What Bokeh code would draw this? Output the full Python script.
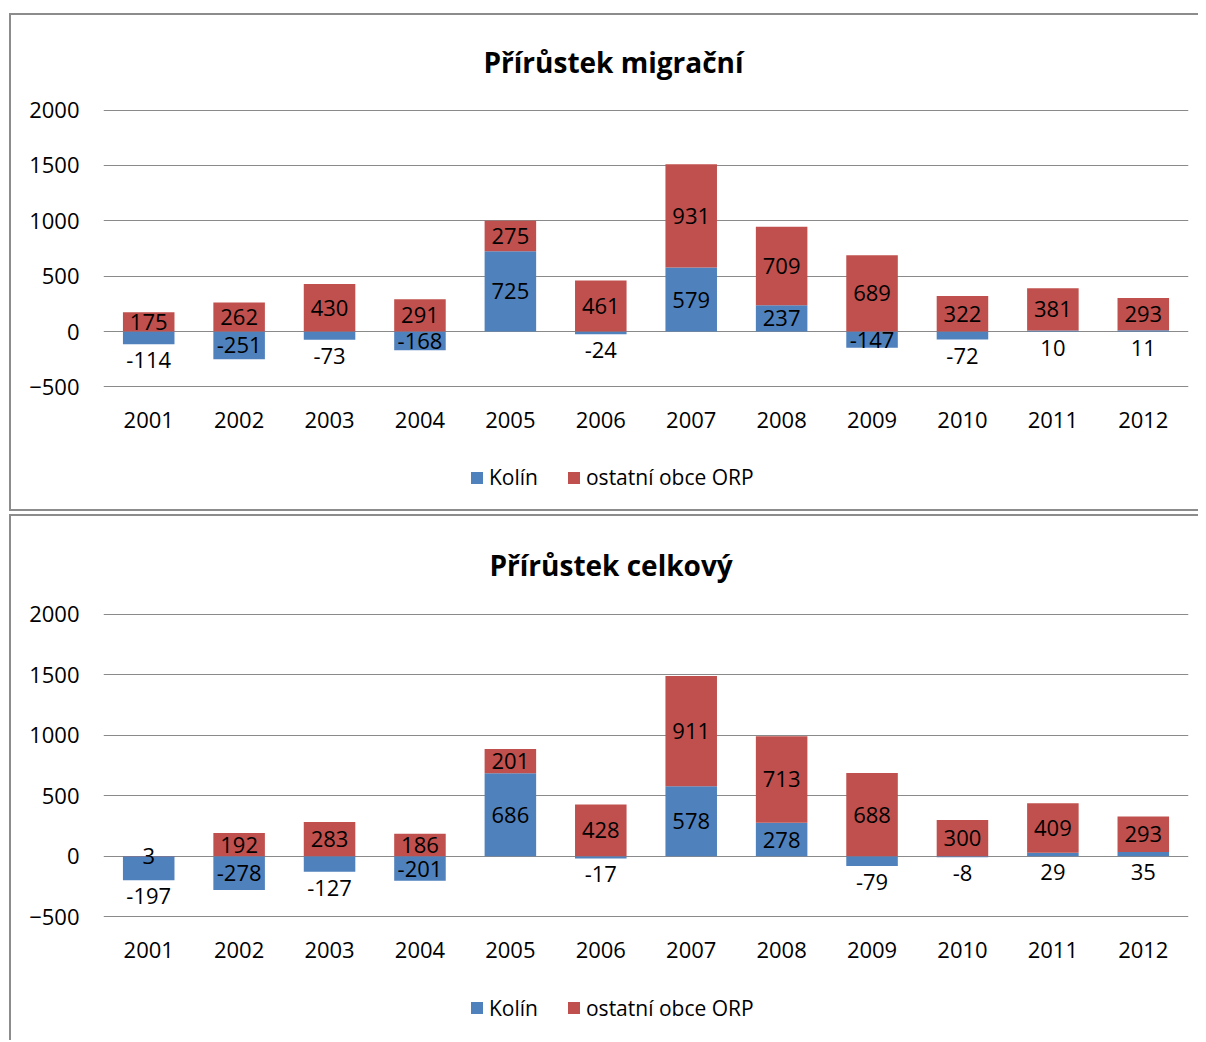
from bokeh.plotting import figure
from bokeh.models import ColumnDataSource, FactorRange, Range1d, FixedTicker, Legend, LegendItem
from bokeh.core.properties import value
from bokeh.layouts import column
from bokeh.embed import file_html
from bokeh.resources import INLINE

years = ["2001", "2002", "2003", "2004", "2005", "2006", "2007", "2008", "2009", "2010", "2011", "2012"]

# Přírůstek migrační
mig_kolin = [-114, -251, -73, -168, 725, -24, 579, 237, -147, -72, 10, 11]
mig_ostatni = [175, 262, 430, 291, 275, 461, 931, 709, 689, 322, 381, 293]

# Přírůstek celkový
cel_kolin = [-197, -278, -127, -201, 686, -17, 578, 278, -79, -8, 29, 35]
cel_ostatni = [3, 192, 283, 186, 201, 428, 911, 713, 688, 300, 409, 293]

y_ticks = [-500, 0, 500, 1000, 1500, 2000]
series_names = ["Kolín", "ostatní obce ORP"]

BLUE = "#4F81BD"
RED = "#C0504D"
GRID = "#8a8a8a"
BORDER = "#8c8c8c"
FONT = "Open Sans"
CANVAS_W = 1187


def make_chart(title, kolin, ostatni, frame_h, main_h, leg_h, min_top, below_thresh, styles,
               title_offset):
    b_bottom = [0] * len(kolin)
    b_top = list(kolin)
    r_bottom = [max(k, 0) for k in kolin]
    r_top = [max(k, 0) + o for k, o in zip(kolin, ostatni)]
    r_mid = [(a + b) / 2 for a, b in zip(r_bottom, r_top)]
    b_lab_y = []
    b_lab_dy = []
    for k in kolin:
        if abs(k) < below_thresh:
            b_lab_y.append(min(k, 0))
            b_lab_dy.append(16)
        else:
            b_lab_y.append(k / 2)
            b_lab_dy.append(0)

    src = ColumnDataSource(dict(
        x=years, b_bottom=b_bottom, b_top=b_top, r_bottom=r_bottom, r_top=r_top,
        r_mid=r_mid, b_lab_y=b_lab_y, b_lab_dy=b_lab_dy,
        b_txt=[str(v) for v in kolin], r_txt=[str(v) for v in ostatni],
    ))

    p = figure(x_range=FactorRange(factors=years), y_range=Range1d(-505, 2005),
               width=CANVAS_W, height=main_h, output_backend="svg", toolbar_location=None,
               min_border_left=92, min_border_right=10, min_border_top=min_top,
               min_border_bottom=main_h - min_top - frame_h)
    p.outline_line_color = None
    p.background_fill_color = "white"
    p.border_fill_color = "white"

    p.vbar(x="x", bottom="b_bottom", top="b_top", width=0.57, source=src,
           fill_color=BLUE, line_color=None)
    p.vbar(x="x", bottom="r_bottom", top="r_top", width=0.57, source=src,
           fill_color=RED, line_color=None)

    p.text(x="x", y="r_mid", text="r_txt", source=src, text_align="center",
           text_baseline="middle", text_font_size="22px", text_font=value(FONT),
           text_color="black")
    p.text(x="x", y="b_lab_y", text="b_txt", y_offset="b_lab_dy", source=src,
           text_align="center", text_baseline="middle", text_font_size="22px",
           text_font=value(FONT), text_color="black")

    p.title.text = title
    p.title.text_font = FONT
    p.title.text_font_size = "28px"
    p.title.text_font_style = "bold"
    p.title.align = "left"
    p.title.offset = title_offset
    p.title.vertical_align = "top"
    p.title.standoff = min_top - 41
    p.title.text_color = "black"

    p.xgrid.grid_line_color = None
    p.ygrid.grid_line_color = GRID
    p.ygrid.grid_line_width = 1
    p.yaxis.ticker = FixedTicker(ticks=y_ticks)

    for ax in (p.xaxis[0], p.yaxis[0]):
        ax.axis_line_color = None
        ax.major_tick_line_color = None
        ax.minor_tick_line_color = None
        ax.major_tick_out = 0
        ax.major_tick_in = 0
        ax.major_label_text_font = FONT
        ax.major_label_text_font_size = "22px"
        ax.major_label_text_color = "black"
    p.yaxis.major_label_standoff = 24
    p.xaxis.major_label_standoff = 24

    # legend strip (inside the same bordered chart area)
    q = figure(x_range=Range1d(0, 1), y_range=Range1d(0, 1), width=CANVAS_W, height=leg_h,
               output_backend="svg", toolbar_location=None, x_axis_location=None,
               y_axis_location=None, min_border=0, min_border_left=0, min_border_right=0,
               min_border_top=0, min_border_bottom=0)
    q.outline_line_color = None
    q.background_fill_color = "white"
    q.border_fill_color = "white"
    for g in q.grid:
        g.visible = False
    # zero-height proxy bars: only their legend swatches are seen
    proxy = ColumnDataSource(dict(x=[0], top=[0], bottom=[0]))
    lb = q.vbar(x="x", top="top", bottom="bottom", width=0.001, source=proxy,
                fill_color=BLUE, line_color=None)
    lr = q.vbar(x="x", top="top", bottom="bottom", width=0.001, source=proxy,
                fill_color=RED, line_color=None)
    legend = Legend(items=[LegendItem(label=series_names[0], renderers=[lb]),
                           LegendItem(label=series_names[1], renderers=[lr])],
                    orientation="horizontal", location="left",
                    glyph_width=15, glyph_height=15, label_standoff=5, spacing=28,
                    padding=0, margin=366, border_line_color=None, background_fill_alpha=0,
                    label_text_font=FONT, label_text_font_size="21px",
                    label_text_color="black", label_height=20)
    q.add_layout(legend, "center")

    return column(p, q, spacing=0, styles=styles)


c1 = make_chart("Přírůstek migrační", mig_kolin, mig_ostatni, frame_h=278, main_h=430,
                leg_h=64, min_top=94, below_thresh=140,
                styles={"border-left": f"2px solid {BORDER}", "border-top": f"2px solid {BORDER}",
                        "border-bottom": f"2px solid {BORDER}", "margin-left": "9px",
                        "margin-top": "13px"}, title_offset=380)
c2 = make_chart("Přírůstek celkový", cel_kolin, cel_ostatni, frame_h=304, main_h=459,
                leg_h=65, min_top=97, below_thresh=200,
                styles={"border-left": f"2px solid {BORDER}", "border-top": f"2px solid {BORDER}",
                        "margin-left": "9px", "margin-top": "3px"}, title_offset=386)

layout = column(c1, c2, spacing=0)
open("out.html", "w").write(file_html(layout, INLINE))
